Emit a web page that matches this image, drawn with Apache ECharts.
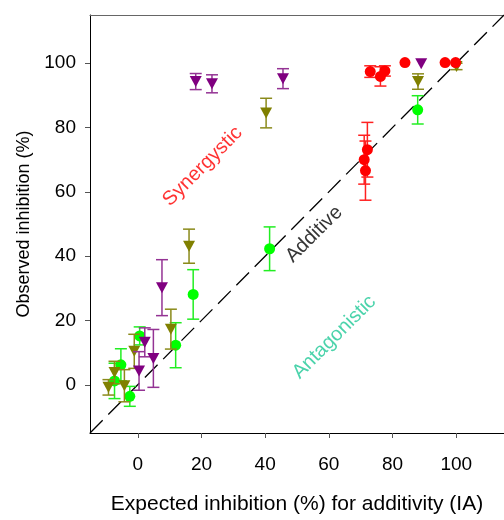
<!DOCTYPE html>
<html>
<head>
<meta charset="utf-8">
<script src="https://cdn.jsdelivr.net/npm/echarts@6/dist/echarts.min.js"></script>
<style>
html,body{margin:0;padding:0;background:#fff;}
#chart{width:504px;height:520px;}
</style>
</head>
<body>
<div id="chart"></div>
<script>
// ---- data ----
const xTickValues = [0, 20, 40, 60, 80, 100];
const yTickValues = [0, 20, 40, 60, 80, 100];

const redX   = [72.1, 71.1, 71.5, 73.0, 76.2, 77.6, 83.9, 96.5, 99.8];
const redY   = [73.1, 70.0, 66.6, 97.4, 95.9, 97.6, 100.2, 100.2, 100.2];
const redErr = [8.5, 7.6, 9.2, 1.8, 3.0, 1.6, 0, 0, 0];

const greenX   = [87.9, 41.4, 17.4, 11.9, 0.6, -5.3, -7.3, -2.5];
const greenY   = [85.5, 42.3, 28.1, 12.3, 15.2, 6.2, 1.2, -3.6];
const greenErr = [4.4, 6.8, 7.7, 7.0, 2.8, 5.0, 5.5, 3.1];

const oliveX   = [88.0, 100.1, 40.3, 16.1, 10.4, -1.1, -7.3, -9.2, -4.2];
const oliveY   = [94.3, 99.0, 84.5, 43.1, 17.3, 10.4, 3.8, -0.8, -0.3];
const oliveErr = [2.4, 1.0, 4.6, 5.3, 6.2, 5.3, 3.5, 2.4, 5.0];

const purpleX   = [18.2, 23.3, 45.6, 89.0, 7.6, 4.9, 2.2, 0.4];
const purpleY   = [94.3, 93.6, 95.2, 99.8, 30.2, 8.2, 13.2, 4.3];
const purpleErr = [2.5, 2.8, 3.1, 0, 8.7, 9.0, 4.5, 6.0];

const additiveLineX = [-15, 115];
const additiveLineY = [-15, 115];

const annotationText = ['Synergystic', 'Additive', 'Antagonistic'];
const annotationX = [20.4, 55.4, 61.7];
const annotationY = [67.9, 46.8, 14.8];

// ---- build ----
const FONT = 'Liberation Sans, Arial, Helvetica, sans-serif';
function zip3(a, b, c) { return a.map((v, i) => [v, b[i], c[i]]); }
function zip2(a, b) { return a.map((v, i) => [v, b[i]]); }

function errorSeries(data, color, z) {
  return {
    type: 'custom',
    z: z,
    silent: true,
    data: data,
    encode: { x: 0, y: 1 },
    renderItem: function (params, api) {
      const x = api.value(0), y = api.value(1), e = api.value(2);
      if (!e) return null;
      const t = api.coord([x, y + e]);
      const b = api.coord([x, y - e]);
      const hw = 6;
      const st = { stroke: color, lineWidth: 1.5 };
      return {
        type: 'group',
        children: [
          { type: 'line', shape: { x1: t[0], y1: t[1], x2: b[0], y2: b[1] }, style: st },
          { type: 'line', shape: { x1: t[0] - hw, y1: t[1], x2: t[0] + hw, y2: t[1] }, style: st },
          { type: 'line', shape: { x1: b[0] - hw, y1: b[1], x2: b[0] + hw, y2: b[1] }, style: st }
        ]
      };
    }
  };
}

function markerSeries(x, y, color, symbol, z) {
  const isTri = symbol === 'triangle';
  return {
    type: 'scatter',
    z: z,
    data: zip2(x, y),
    symbol: symbol,
    symbolRotate: isTri ? 180 : 0,
    symbolSize: isTri ? [12, 11] : 11,
    itemStyle: { color: color, opacity: 1 },
    emphasis: { disabled: true }
  };
}

const annColors = ['#ff0000', '#000000', '#1ec896'];

const chart = echarts.init(document.getElementById('chart'), null, { renderer: 'canvas' });
chart.setOption({
  animation: false,
  backgroundColor: '#ffffff',
  textStyle: { fontFamily: FONT },
  grid: { left: 90, top: 15, width: 420, height: 418, containLabel: false },
  xAxis: [{
    type: 'value', min: -15, max: 115,
    position: 'bottom',
    name: 'Expected inhibition (%) for additivity (IA)',
    nameLocation: 'middle', nameGap: 61,
    nameTextStyle: { fontSize: 21, color: '#000', fontFamily: FONT },
    axisLine: { show: true, onZero: false, lineStyle: { color: '#000', width: 1 } },
    axisTick: { show: true, inside: false, length: 5, customValues: xTickValues, lineStyle: { color: '#555' } },
    axisLabel: { show: true, customValues: xTickValues, margin: 22, fontSize: 19, color: '#000', fontFamily: FONT },
    splitLine: { show: false }
  }, {
    type: 'value', min: -15, max: 115,
    position: 'top',
    axisLine: { show: true, onZero: false, lineStyle: { color: '#666', width: 1.2 } },
    axisTick: { show: false }, axisLabel: { show: false }, splitLine: { show: false }
  }],
  yAxis: {
    type: 'value', min: -15, max: 115,
    name: 'Observed inhibition (%)',
    nameLocation: 'middle', nameGap: 55,
    nameTextStyle: { fontSize: 18, color: '#000', fontFamily: FONT },
    axisLine: { show: true, onZero: false, lineStyle: { color: '#000', width: 1 } },
    axisTick: { show: true, inside: false, length: 5, customValues: yTickValues, lineStyle: { color: '#555' } },
    axisLabel: { show: true, customValues: yTickValues, margin: 14, fontSize: 19, color: '#000', fontFamily: FONT },
    splitLine: { show: false }
  },
  series: [
    {
      type: 'line', z: 1, silent: true,
      data: zip2(additiveLineX, additiveLineY),
      symbol: 'none',
      lineStyle: { color: '#000', width: 1.3, type: [18, 8] }
    },
    {
      type: 'scatter', z: 2, silent: true,
      data: annotationText.map((t, i) => ({
        value: [annotationX[i], annotationY[i]],
        label: { formatter: t, color: annColors[i] }
      })),
      symbolSize: 0,
      label: {
        show: true, position: 'inside', rotate: 45,
        fontSize: 20, fontFamily: FONT
      }
    },
    errorSeries(zip3(greenX, greenY, greenErr), '#22ee22', 3),
    markerSeries(greenX, greenY, '#00ff00', 'circle', 4),
    errorSeries(zip3(oliveX, oliveY, oliveErr), '#8a8a1a', 5),
    markerSeries(oliveX, oliveY, '#808000', 'triangle', 6),
    errorSeries(zip3(purpleX, purpleY, purpleErr), '#943394', 7),
    markerSeries(purpleX, purpleY, '#800080', 'triangle', 8),
    errorSeries(zip3(redX, redY, redErr), '#ff2020', 9),
    markerSeries(redX, redY, '#ff0000', 'circle', 10)
  ]
});
</script>
</body>
</html>
